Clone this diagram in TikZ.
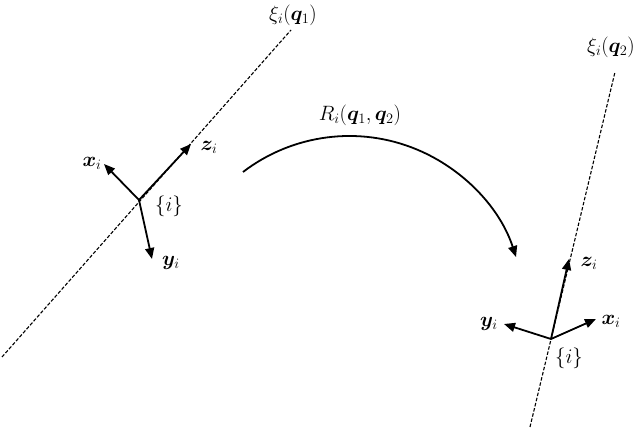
\documentclass[tikz,border=0pt]{standalone}
\usepackage{amsmath,bm}
\usetikzlibrary{arrows.meta}
\begin{document}
\begin{tikzpicture}[x=1pt,y=1pt,
  lbl/.style={inner sep=0pt,font=\fontsize{22}{24}\selectfont},
  axis/.style={line width=1.8pt,-{Triangle[length=11pt,width=9pt]}},
  surf/.style={line width=1.1pt,dash pattern=on 3.5pt off 1.8pt}]
\useasboundingbox (0,0) rectangle (640,428);
% surfaces
\coordinate (s1a) at (2,71);
\coordinate (s1b) at (291,398);
\coordinate (s2a) at (530,1);
\coordinate (s2b) at (615,356);
\draw[surf] (s1a) -- (s1b);
\draw[surf] (s2a) -- (s2b);
\node[lbl] (xi1) at (293,413) {$\xi_i(\bm{q}_1)$};
\node[lbl] (xi2) at (611,381) {$\xi_i(\bm{q}_2)$};
% left frame
\coordinate (O1) at (139,228);
\coordinate (x1) at (104,264);
\coordinate (z1) at (191,284);
\coordinate (y1) at (152,169);
\draw[axis] (O1) -- (x1);
\draw[axis] (O1) -- (z1);
\draw[axis] (O1) -- (y1);
\node[lbl] (lx1) at (92,265) {$\bm{x}_i$};
\node[lbl] (lz1) at (209,281) {$\bm{z}_i$};
\node[lbl] (ly1) at (171,165) {$\bm{y}_i$};
\node[lbl] (f1) at (169,222) {$\{i\}$};
% right frame
\coordinate (O2) at (551,89);
\coordinate (z2) at (569,169);
\coordinate (y2) at (504,104);
\coordinate (x2) at (596,109);
\draw[axis] (O2) -- (z2);
\draw[axis] (O2) -- (y2);
\draw[axis] (O2) -- (x2);
\node[lbl] (lz2) at (589,165) {$\bm{z}_i$};
\node[lbl] (ly2) at (489,104) {$\bm{y}_i$};
\node[lbl] (lx2) at (611,107) {$\bm{x}_i$};
\node[lbl] (f2) at (569,70) {$\{i\}$};
% rotation arc
\coordinate (a0) at (243,256);
\draw[line width=1.8pt,-{Triangle[length=11pt,width=9pt]}] (a0) arc[start angle=127.4,end angle=18,radius=175.2];
\node[lbl] (R) at (360,313) {$R_i(\bm{q}_1,\bm{q}_2)$};
\end{tikzpicture}
\end{document}
